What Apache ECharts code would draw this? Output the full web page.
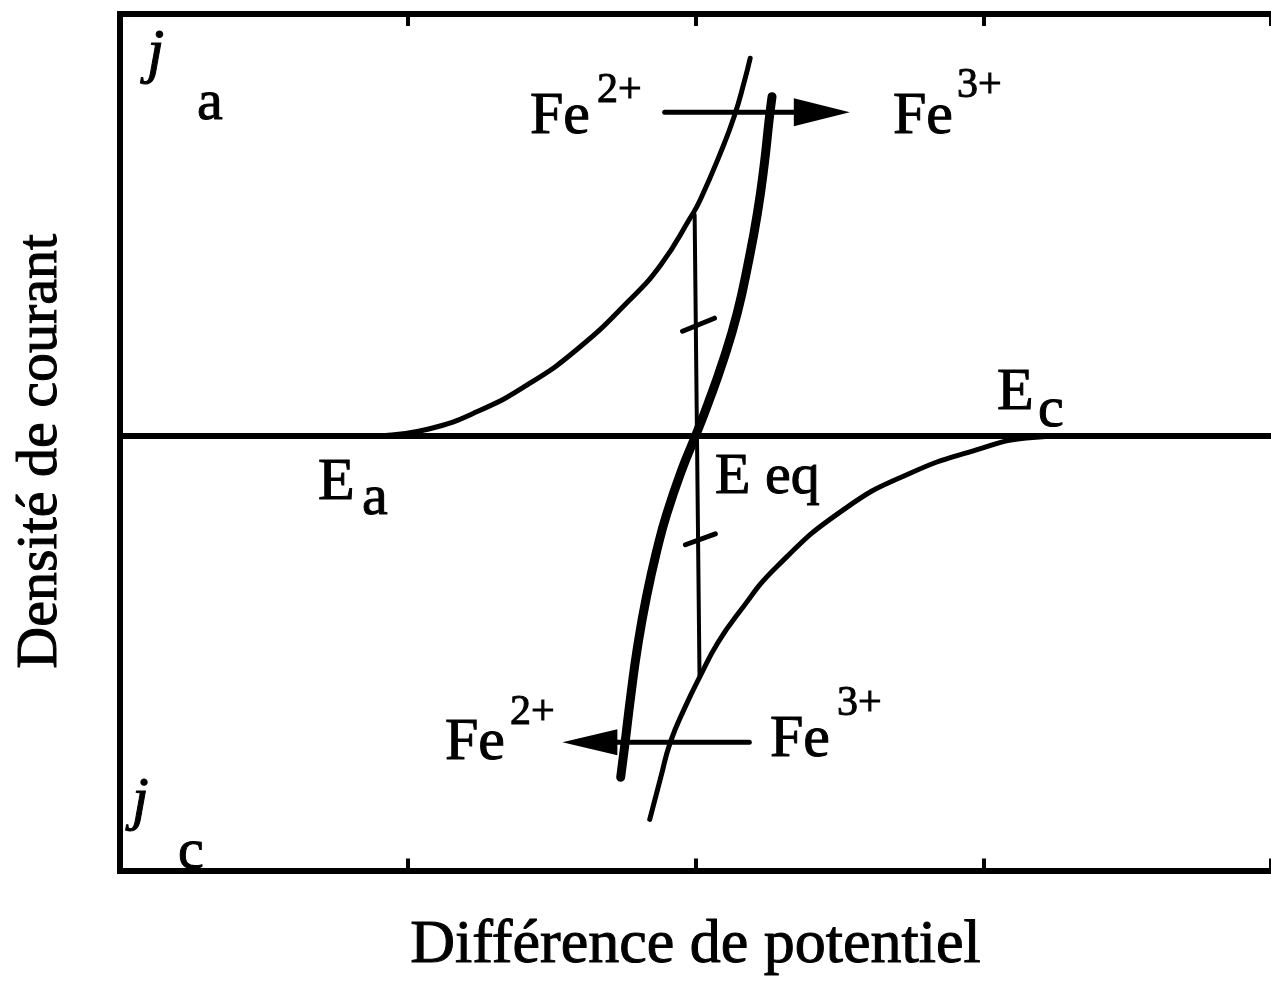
<!DOCTYPE html>
<html>
<head>
<meta charset="utf-8">
<script src="https://cdn.jsdelivr.net/npm/echarts@6/dist/echarts.min.js"></script>
<style>
  html, body { margin: 0; padding: 0; background: #fff; }
  #chart { width: 1271px; height: 982px; }
</style>
</head>
<body>
<div id="chart"></div>
<script>
// Potential (x) against current density (y), arbitrary units.
// Anodic partial current Fe2+ -> Fe3+ (thin, rising from Ea)
const anodicCurve = [[0.900, 0], [1.073, 0.165], [1.246, 0.589], [1.419, 1.225], [1.592, 2.072],
  [1.765, 3.179], [1.879, 4.051], [1.983, 5.181], [2.017, 5.605], [2.087, 6.712],
  [2.135, 7.583], [2.170, 8.408], [2.190, 8.950]];
// Cathodic partial current Fe3+ -> Fe2+ (thin, falling from Ec)
const cathodicCurve = [[1.841, -9.09], [1.879, -8.10], [1.913, -7.25], [1.965, -6.41],
  [2.014, -5.72], [2.076, -4.92], [2.145, -4.24], [2.284, -3.09], [2.516, -1.74],
  [2.744, -0.89], [2.976, -0.33], [3.149, -0.05], [3.287, 0]];
// Net current through Eeq (thick)
const netCurve = [[1.740, -8.09], [1.754, -7.34], [1.775, -6.16], [1.799, -4.98], [1.830, -3.80],
  [1.869, -2.62], [1.900, -1.85], [1.952, -0.81], [2.000, 0], [2.042, 0.74], [2.097, 1.80],
  [2.145, 2.91], [2.183, 4.09], [2.215, 5.27], [2.239, 6.44], [2.256, 7.50], [2.266, 8.04]];
const zeroLine = [[0, 0], [4, 0]];
const eqConnector = [[1.997, 5.24], [2.014, -5.72]];
const anodicMark = [[1.955, 2.48], [2.066, 2.79]];
const cathodicMark = [[1.965, -2.58], [2.069, -2.32]];
const oxidationShaft = [[1.893, 7.67], [2.353, 7.67]];
const reductionShaft = [[2.187, -7.26], [1.661, -7.26]];
const oxidationHead = [2.439, 7.67];
const reductionHead = [1.633, -7.26];

const xTitle = 'Différence de potentiel';
const yTitle = 'Densité de courant';

const FONT = '"Liberation Serif", "Times New Roman", serif';
const INK = '#000';

function line(data, width, smooth) {
  return {
    type: 'line', data: data, symbol: 'none',
    smooth: smooth ? 0.5 : false,
    lineStyle: { color: INK, width: width, cap: 'round' },
    silent: true, z: 3
  };
}

// text helper: left edge, baseline, size
function txt(s, left, baseline, size, italic) {
  return {
    type: 'text', x: left, y: baseline - 0.3375 * size, z: 10,
    style: {
      text: s, fill: INK, stroke: INK, lineWidth: 1,
      font: (italic ? 'italic ' : '') + size + 'px ' + FONT,
      textAlign: 'left', textVerticalAlign: 'middle', align: 'left', verticalAlign: 'middle'
    }
  };
}

const axisCommon = {
  type: 'value', min: 0, max: 4, interval: 1,
  axisLabel: { show: false }, splitLine: { show: false },
  axisLine: { show: true, onZero: false, lineStyle: { color: INK, width: 6, cap: 'square' } },
  axisTick: { show: true, inside: true, length: 12, lineStyle: { color: INK, width: 4 } }
};

const chart = echarts.init(document.getElementById('chart'), null, { renderer: 'canvas' });
chart.setOption({
  animation: false,
  backgroundColor: '#fff',
  grid: { left: 120, top: 14, width: 1156, height: 862, containLabel: false },
  xAxis: [
    Object.assign({}, axisCommon, {
      position: 'bottom', name: xTitle, nameLocation: 'middle', nameGap: 44,
      nameTextStyle: { fontFamily: FONT, fontSize: 62, color: INK, textBorderColor: INK, textBorderWidth: 1 }
    }),
    Object.assign({}, axisCommon, { position: 'top' })
  ],
  yAxis: {
    type: 'value', min: -10.3, max: 10, position: 'left',
    axisLabel: { show: false }, splitLine: { show: false }, axisTick: { show: false },
    axisLine: { show: true, onZero: false, lineStyle: { color: INK, width: 6, cap: 'square' } },
    name: yTitle, nameLocation: 'middle', nameGap: 50, nameRotate: 90,
    nameTextStyle: {
      fontFamily: FONT, fontSize: 58, color: INK, textBorderColor: INK, textBorderWidth: 1,
      padding: [0, 18, 0, 0]
    }
  },
  series: [
    line(zeroLine, 6),
    line(anodicCurve, 5, true),
    line(cathodicCurve, 5, true),
    line(netCurve, 9, true),
    line(eqConnector, 4),
    line(anodicMark, 5),
    line(cathodicMark, 5),
    line(oxidationShaft, 5),
    line(reductionShaft, 5),
    {
      type: 'scatter', silent: true, z: 4,
      symbol: 'triangle',
      itemStyle: { color: INK, opacity: 1 },
      data: [
        { value: oxidationHead, symbolSize: [28, 56], symbolRotate: -90 },
        { value: reductionHead, symbolSize: [26, 55], symbolRotate: 90 }
      ]
    }
  ],
  graphic: [
    txt('j', 147, 76, 62, true),
    txt('a', 197, 123, 58),
    txt('Fe', 530, 137, 60),
    txt('2+', 597, 105, 42),
    txt('Fe', 893, 137, 60),
    txt('3+', 957, 100, 42),
    txt('E', 318, 503, 60),
    txt('a', 362, 518, 58),
    txt('E eq', 715, 497, 58),
    txt('E', 997, 413, 60),
    txt('c', 1038, 430, 58),
    txt('Fe', 445, 763, 60),
    txt('2+', 510, 727, 42),
    txt('Fe', 770, 760, 60),
    txt('3+', 837, 718, 42),
    txt('j', 132, 822, 60, true),
    txt('c', 178, 872, 58)
  ]
});
</script>
</body>
</html>
